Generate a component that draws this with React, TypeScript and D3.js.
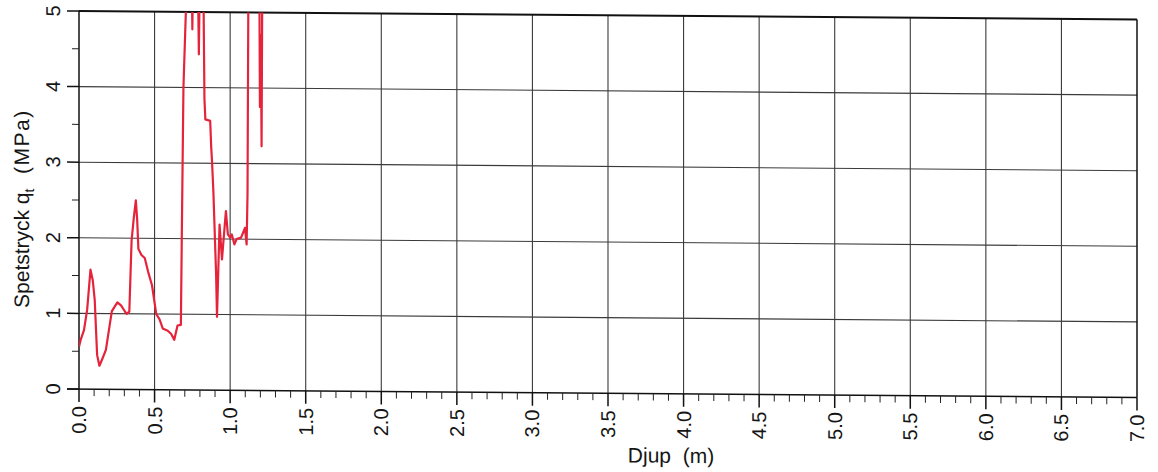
import React, { useEffect, useRef } from 'react';
import * as d3 from 'd3';

// depth (m) and cone tip resistance qt (MPa); values above 5 run off the top
const depth = [0, 0.011, 0.033, 0.054, 0.076, 0.091, 0.104, 0.12, 0.135, 0.152, 0.178, 0.217, 0.235, 0.254, 0.278,
  0.304, 0.315, 0.333, 0.348, 0.363, 0.376, 0.385, 0.393, 0.413, 0.435, 0.457, 0.483, 0.511, 0.533, 0.554, 0.587,
  0.609, 0.63, 0.652, 0.674, 0.68, 0.691, 0.707, 0.712, 0.745, 0.75, 0.755, 0.786, 0.793, 0.8, 0.822, 0.83, 0.836,
  0.868, 0.875, 0.88, 0.889, 0.907, 0.913, 0.93, 0.946, 0.972, 0.985, 1.0, 1.011, 1.028, 1.043, 1.072, 1.087, 1.098,
  1.109, 1.115, 1.12, 1.125, 1.193, 1.197, 1.203, 1.208, 1.213];
const qt = [0.56, 0.65, 0.78, 1.05, 1.58, 1.44, 1.18, 0.45, 0.31, 0.39, 0.52, 1.03, 1.09, 1.15, 1.11,
  1.03, 1.0, 1.03, 1.97, 2.28, 2.5, 2.24, 1.86, 1.78, 1.74, 1.56, 1.38, 1.0, 0.93, 0.81, 0.78,
  0.74, 0.66, 0.85, 0.86, 2.0, 4.0, 5.0, 5.6, 5.6, 4.77, 5.6, 5.6, 4.44, 5.6, 5.6, 3.85, 3.58,
  3.56, 3.2, 3.03, 2.63, 1.54, 0.97, 2.19, 1.73, 2.37, 2.06, 2.02, 2.06, 1.93, 2.0, 2.02, 2.09, 2.15,
  1.93, 2.6, 5.0, 5.6, 5.6, 3.75, 4.7, 3.23, 5.6];

const xTickLabels = ['0.0', '0.5', '1.0', '1.5', '2.0', '2.5', '3.0', '3.5', '4.0', '4.5', '5.0', '5.5', '6.0', '6.5', '7.0'];
const yTickLabels = ['0', '1', '2', '3', '4', '5'];

function SondChart() {
  const svgRef = useRef<SVGSVGElement>(null);

  useEffect(() => {
    const width = 1158;
    const height = 472;
    const margin = { top: 11, right: 21, bottom: 83, left: 79 };
    const font = "'Liberation Sans', Arial, sans-serif";

    const x = d3.scaleLinear().domain([0, 7]).range([margin.left, width - margin.right]);
    const y = d3.scaleLinear().domain([0, 5]).range([height - margin.bottom, margin.top]);

    const svg = d3.select(svgRef.current);
    svg.selectAll('*').remove();

    // the scan is slightly sheared, right side sits lower
    const g = svg.append('g')
      .attr('transform', `translate(${margin.left},0) skewY(0.46) translate(${-margin.left},0)`);

    const xVals = xTickLabels.map(Number);
    const yVals = yTickLabels.map(Number);

    // grid
    g.append('g').selectAll('line').data(xVals.slice(1, -1)).join('line')
      .attr('x1', d => x(d)).attr('x2', d => x(d))
      .attr('y1', y(0)).attr('y2', y(5))
      .attr('stroke', '#3a3a3a').attr('stroke-width', 1.1);
    g.append('g').selectAll('line').data(yVals.slice(1, -1)).join('line')
      .attr('x1', x(0)).attr('x2', x(7))
      .attr('y1', d => y(d)).attr('y2', d => y(d))
      .attr('stroke', '#3a3a3a').attr('stroke-width', 1.1);

    // frame
    g.append('line').attr('x1', x(0)).attr('x2', x(7)).attr('y1', y(5)).attr('y2', y(5))
      .attr('stroke', '#111').attr('stroke-width', 2);
    g.append('line').attr('x1', x(7)).attr('x2', x(7)).attr('y1', y(5)).attr('y2', y(0))
      .attr('stroke', '#111').attr('stroke-width', 1.5);
    g.append('line').attr('x1', x(0)).attr('x2', x(0)).attr('y1', y(5)).attr('y2', y(0))
      .attr('stroke', '#111').attr('stroke-width', 1.5);
    g.append('line').attr('x1', x(0) - 12).attr('x2', x(7)).attr('y1', y(0)).attr('y2', y(0))
      .attr('stroke', '#111').attr('stroke-width', 1.5);

    // x ticks
    const xMinor = d3.range(1, 70).map(i => i / 10).filter((d, i) => (i + 1) % 5 !== 0);
    g.append('g').selectAll('line').data(xMinor).join('line')
      .attr('x1', d => x(d)).attr('x2', d => x(d))
      .attr('y1', y(0)).attr('y2', y(0) + 7)
      .attr('stroke', '#222').attr('stroke-width', 1);
    g.append('g').selectAll('line').data(xVals).join('line')
      .attr('x1', d => x(d)).attr('x2', d => x(d))
      .attr('y1', y(0)).attr('y2', y(0) + 13)
      .attr('stroke', '#111').attr('stroke-width', 1.5);

    // y ticks
    const yMinor = d3.range(0, 5).map(d => d + 0.5);
    g.append('g').selectAll('line').data(yMinor).join('line')
      .attr('x1', x(0) - 7).attr('x2', x(0))
      .attr('y1', d => y(d)).attr('y2', d => y(d))
      .attr('stroke', '#222').attr('stroke-width', 1);
    g.append('g').selectAll('line').data(yVals).join('line')
      .attr('x1', x(0) - 12).attr('x2', x(0))
      .attr('y1', d => y(d)).attr('y2', d => y(d))
      .attr('stroke', '#111').attr('stroke-width', 1.5);

    // tick labels
    g.append('g').selectAll('text').data(xTickLabels).join('text')
      .attr('transform', d => `translate(${x(+d)},${y(0) + 17}) rotate(-90)`)
      .attr('text-anchor', 'end').attr('dominant-baseline', 'central')
      .attr('font-family', font).attr('font-size', 20).attr('fill', '#151515')
      .text(d => d);
    g.append('g').selectAll('text').data(yTickLabels).join('text')
      .attr('transform', d => `translate(${x(0) - 19},${y(+d)}) rotate(-90)`)
      .attr('text-anchor', 'middle')
      .attr('font-family', font).attr('font-size', 20).attr('fill', '#151515')
      .text(d => d);

    // axis titles
    g.append('text')
      .attr('x', 671).attr('y', 458)
      .attr('text-anchor', 'middle')
      .attr('font-family', font).attr('font-size', 21).attr('fill', '#151515')
      .style('white-space', 'pre')
      .text('Djup  (m)');
    const yt = g.append('text')
      .attr('transform', 'translate(29,209) rotate(-90)')
      .attr('text-anchor', 'middle')
      .attr('font-family', font).attr('font-size', 21).attr('fill', '#151515')
      .style('white-space', 'pre');
    yt.append('tspan').text('Spetstryck q');
    yt.append('tspan').attr('font-size', 14).attr('dy', 5).text('t');
    yt.append('tspan').attr('dy', -5).attr('letter-spacing', 1.5).text('  (MPa)');

    // curve
    svg.append('defs').append('clipPath').attr('id', 'plot-clip')
      .append('rect')
      .attr('x', x(0)).attr('y', y(5))
      .attr('width', x(7) - x(0)).attr('height', y(0) - y(5));

    const line = d3.line<number>()
      .x((d, i) => x(depth[i]))
      .y(d => y(d));

    g.append('path')
      .datum(qt)
      .attr('clip-path', 'url(#plot-clip)')
      .attr('fill', 'none')
      .attr('stroke', '#e5233a')
      .attr('stroke-width', 2.2)
      .attr('stroke-linejoin', 'round')
      .attr('d', line);
  }, []);

  return (
    <svg ref={svgRef} width={1158} height={472}
      style={{ position: 'absolute', left: 0, top: 0, background: '#fff' }} />
  );
}

export default function App() {
  return <SondChart />;
}
